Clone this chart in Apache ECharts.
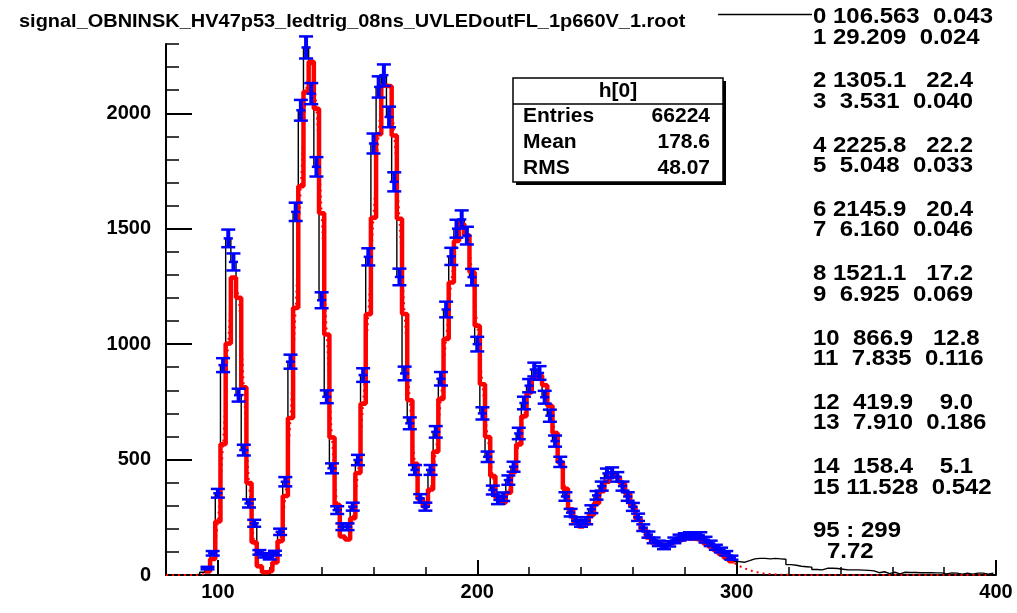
<!DOCTYPE html>
<html>
<head>
<meta charset="utf-8">
<title>h[0] fit</title>
<script src="https://cdn.jsdelivr.net/npm/echarts@6/dist/echarts.min.js"></script>
<style>
  html, body { margin: 0; padding: 0; background: #ffffff; }
  #chart { width: 1017px; height: 613px; }
</style>
</head>
<body>
<div id="chart"></div>
<script>
// ---- histogram data (2-unit bins, first bin centred at 80) ----
const histTitle = 'signal_OBNINSK_HV47p53_ledtrig_08ns_UVLEDoutFL_1p660V_1.root';
const firstBinCenter = 80;
const binWidth = 2;

// bin contents, centres 80, 82, ... 398
const counts = [
  0, 0, 0, 0, 0, 0, 3, 12, 30, 94,
  354, 909, 1458, 1356, 779, 541, 310, 224, 98, 85,
  76, 95, 187, 404, 924, 1573, 2013, 2285, 2085, 1768,
  1190, 772, 462, 281, 209, 209, 296, 498, 866, 1378,
  1869, 2114, 2165, 1984, 1703, 1291, 873, 657, 455, 332,
  296, 455, 620, 850, 1150, 1380, 1500, 1540, 1470, 1290,
  1000, 700, 512, 368, 325, 339, 411, 469, 613, 745,
  820, 890, 875, 770, 690, 580, 490, 340, 270, 235,
  224, 235, 285, 345, 385, 440, 445, 425, 385, 340,
  295, 250, 205, 175, 150, 137, 123, 135, 150, 162,
  168, 172, 167, 172, 153, 137, 120, 108, 94, 75,
  58, 55, 62, 70, 72, 72, 70, 72, 70, 68,
  45, 42, 38, 36, 34, 24, 22, 29, 29, 28,
  25, 22, 22, 22, 21, 20, 18, 10, 14, 6,
  12, 5, 12, 11, 11, 10, 10, 10, 9, 9,
  5, 9, 8, 4, 8, 3, 8, 8, 3, 8
];

// multi-gaussian fit evaluated at the same bin centres
const fitValues = [
  0, 0, 0, 0, 0, 0, 0.3, 2.3, 14.9, 68.9,
  232.0, 566.3, 1002.8, 1288.6, 1201.4, 812.7, 398.8, 142.2, 37.7, 11.4,
  17.8, 53.9, 146.8, 341.9, 680.4, 1157.7, 1683.6, 2092.9, 2223.5, 2019.2,
  1567.4, 1041.9, 596.1, 304.4, 166.4, 153.4, 245.7, 441.3, 742.1, 1129.2,
  1547.6, 1908.8, 2118.9, 2116.7, 1904.2, 1543.1, 1130.2, 756.4, 481.6, 328.9,
  296.2, 370.3, 533.5, 762.3, 1022.2, 1267.2, 1446.9, 1520.5, 1471.9, 1311.9,
  1079.8, 826.1, 598.0, 428.8, 333.8, 313.2, 356.5, 447.6, 565.7, 687.8,
  790.6, 853.7, 864.4, 821.9, 732.9, 615.0, 488.6, 373.5, 284.4, 229.1,
  210.0, 223.1, 260.3, 311.0, 362.8, 403.9, 425.4, 422.0, 395.9, 351.6,
  297.8, 243.6, 196.9, 162.0, 140.4, 131.1, 131.0, 136.7, 144.8, 152.4,
  157.6, 158.9, 155.6, 148.3, 137.2, 123.1, 107.2, 90.6, 74.3, 59.1,
  45.7, 34.2, 24.9, 17.5, 12.0, 8.0, 5.1, 3.2, 2.0, 1.2,
  0.7, 0.4, 0, 0, 0, 0, 0, 0, 0, 0,
  0, 0, 0, 0, 0, 0, 0, 0, 0, 0,
  0, 0, 0, 0, 0, 0, 0, 0, 0, 0,
  0, 0, 0, 0, 0, 0, 0, 0, 0, 0
];

const fitRange = [95, 299];
const xRange = [80, 400];
const yRange = [0, 2300];
const xTickValues = [100, 200, 300, 400];
const yTickValues = [0, 500, 1000, 1500, 2000];

// statistics box
const statsName = 'h[0]';
const statsLabels = ['Entries', 'Mean', 'RMS'];
const statsValues = ['66224', '178.6', '48.07'];

// fit parameter listing: index, value, error
const paramLines = [
  '0 106.563  0.043', '1 29.209  0.024',
  '2 1305.1   22.4', '3  3.531  0.040',
  '4 2225.8   22.2', '5  5.048  0.033',
  '6 2145.9   20.4', '7  6.160  0.046',
  '8 1521.1   17.2', '9  6.925  0.069',
  '10  866.9   12.8', '11  7.835  0.116',
  '12  419.9    9.0', '13  7.910  0.186',
  '14  158.4    5.1', '15 11.528  0.542'
];
const fitRangeText = '95 : 299';
const chi2Text = '7.72';

// ---- derived series ----
const FONT = '"Liberation Sans", Arial, Helvetica, sans-serif';
const centers = counts.map((_, i) => firstBinCenter + i * binWidth);
const inFit = centers.map(c => c >= fitRange[0] && c <= fitRange[1]);

// histogram outline: one point per lower bin edge, stepped at the end
const histPoints = counts.map((c, i) => [centers[i] - binWidth / 2, c]);
histPoints.push([centers[centers.length - 1] + binWidth / 2, counts[counts.length - 1]]);

// fit sampled per bin inside the fit range
const fitStep = [];
let lastFitBin = -1;
centers.forEach((c, i) => {
  if (inFit[i]) { fitStep.push([c - binWidth / 2, fitValues[i]]); lastFitBin = i; }
});
fitStep.push([centers[lastFitBin] + binWidth / 2, fitValues[lastFitBin]]);

const fitCurve = centers.map((c, i) => [c, fitValues[i]]);

// poisson error bars inside the fit range
const errPoints = [];
centers.forEach((c, i) => {
  if (inFit[i]) errPoints.push([c, counts[i], Math.sqrt(counts[i])]);
});

function renderErrorBar(params, api) {
  const x = api.value(0), y = api.value(1), e = api.value(2);
  const top = api.coord([x, y + e]);
  const bot = api.coord([x, y - e]);
  const left = api.coord([x - binWidth / 2, y]);
  const right = api.coord([x + binWidth / 2, y]);
  const cap = 7;
  const thin = { stroke: '#0000ff', lineWidth: 2.5 };
  return {
    type: 'group',
    children: [
      { type: 'line', shape: { x1: top[0], y1: top[1], x2: bot[0], y2: bot[1] },
        style: { stroke: '#0000ff', lineWidth: 4 } },
      { type: 'line', shape: { x1: top[0] - cap, y1: top[1], x2: top[0] + cap, y2: top[1] }, style: thin },
      { type: 'line', shape: { x1: bot[0] - cap, y1: bot[1], x2: bot[0] + cap, y2: bot[1] }, style: thin },
      { type: 'line', shape: { x1: left[0] - 2, y1: left[1], x2: right[0] + 2, y2: right[1] }, style: thin }
    ]
  };
}

// ---- overlay text ----
const graphics = [];
graphics.push({
  type: 'text', x: 19, y: 22, scaleX: 1.05, z: 50,
  style: { text: histTitle, font: 'bold 19px ' + FONT, fill: '#000', verticalAlign: 'middle', align: 'left' }
});
graphics.push({
  type: 'line', z: 50,
  shape: { x1: 718, y1: 14.5, x2: 812, y2: 14.5 },
  style: { stroke: '#000', lineWidth: 1.3 }
});
paramLines.forEach((line, i) => {
  const pair = Math.floor(i / 2);
  const y = 17 + pair * 64.3 + (i % 2) * 20.5;
  graphics.push({
    type: 'text', x: 813, y: y, scaleX: 1.09, z: 50,
    style: { text: line, font: 'bold 22px ' + FONT, fill: '#000', verticalAlign: 'middle', align: 'left' }
  });
});
graphics.push({
  type: 'text', x: 813, y: 531, scaleX: 1.09, z: 50,
  style: { text: fitRangeText, font: 'bold 22px ' + FONT, fill: '#000', verticalAlign: 'middle', align: 'left' }
});
graphics.push({
  type: 'text', x: 827, y: 552, scaleX: 1.09, z: 50,
  style: { text: chi2Text, font: 'bold 22px ' + FONT, fill: '#000', verticalAlign: 'middle', align: 'left' }
});

// statistics box with drop shadow
const box = { x: 513, y: 78, w: 210, h: 104 };
graphics.push({
  type: 'rect', z: 60,
  shape: { x: box.x + 3, y: box.y + 3, width: box.w, height: box.h },
  style: { fill: '#000' }
});
graphics.push({
  type: 'rect', z: 61,
  shape: { x: box.x, y: box.y, width: box.w, height: box.h },
  style: { fill: '#fff', stroke: '#000', lineWidth: 1.5 }
});
graphics.push({
  type: 'line', z: 62,
  shape: { x1: box.x, y1: box.y + 26, x2: box.x + box.w, y2: box.y + 26 },
  style: { stroke: '#000', lineWidth: 1.5 }
});
graphics.push({
  type: 'text', x: box.x + box.w / 2, y: box.y + 13, z: 62,
  style: { text: statsName, font: 'bold 21px ' + FONT, fill: '#000', align: 'center', verticalAlign: 'middle' }
});
statsLabels.forEach((lab, i) => {
  const y = box.y + 38.5 + i * 26;
  graphics.push({
    type: 'text', x: box.x + 10, y: y, z: 62,
    style: { text: lab, font: 'bold 21px ' + FONT, fill: '#000', align: 'left', verticalAlign: 'middle' }
  });
  graphics.push({
    type: 'text', x: box.x + box.w - 13, y: y, z: 62,
    style: { text: statsValues[i], font: 'bold 21px ' + FONT, fill: '#000', align: 'right', verticalAlign: 'middle' }
  });
});

const axisLabelStyle = {
  color: '#000', fontFamily: FONT, fontWeight: 'bold', fontSize: 20,
  formatter: v => String(v)
};

const option = {
  animation: false,
  backgroundColor: '#ffffff',
  grid: { left: 166, right: 21, top: 44, bottom: 38, containLabel: false },
  xAxis: [
    {
      type: 'value', min: xRange[0], max: xRange[1], position: 'bottom',
      axisLine: { show: true, onZero: false, lineStyle: { color: '#000', width: 2 } },
      axisTick: { show: true, inside: true, length: 15, customValues: xTickValues, lineStyle: { color: '#000', width: 2 } },
      axisLabel: Object.assign({ customValues: xTickValues, margin: 7 }, axisLabelStyle),
      splitLine: { show: false }
    },
    {
      type: 'value', min: xRange[0], max: xRange[1], interval: 20, position: 'bottom',
      axisLine: { show: false },
      axisTick: { show: true, inside: true, length: 8, lineStyle: { color: '#000', width: 1.5 } },
      axisLabel: { show: false },
      splitLine: { show: false }
    }
  ],
  yAxis: [
    {
      type: 'value', min: yRange[0], max: yRange[1], position: 'left',
      axisLine: { show: true, onZero: false, lineStyle: { color: '#000', width: 2 } },
      axisTick: { show: true, inside: true, length: 26, customValues: yTickValues, lineStyle: { color: '#000', width: 2 } },
      axisLabel: Object.assign({ customValues: yTickValues, margin: 15 }, axisLabelStyle),
      splitLine: { show: false }
    },
    {
      type: 'value', min: yRange[0], max: yRange[1], interval: 100, position: 'left',
      axisLine: { show: false },
      axisTick: { show: true, inside: true, length: 13, lineStyle: { color: '#000', width: 1.5 } },
      axisLabel: { show: false },
      splitLine: { show: false }
    }
  ],
  series: [
    {
      name: 'data', type: 'line', xAxisIndex: 0, yAxisIndex: 0,
      data: histPoints, step: 'end', symbol: 'none', z: 2,
      lineStyle: { color: '#000', width: 1.4 }
    },
    {
      name: 'fit per bin', type: 'line', xAxisIndex: 0, yAxisIndex: 0,
      data: fitStep, step: 'end', symbol: 'none', z: 3,
      lineStyle: { color: '#ff0000', width: 4.5 }
    },
    {
      name: 'fit', type: 'line', xAxisIndex: 0, yAxisIndex: 0,
      data: fitCurve, smooth: 0.3, symbol: 'none', z: 4,
      lineStyle: { color: '#ff0000', width: 2, type: [2, 4] }
    },
    {
      name: 'errors', type: 'custom', xAxisIndex: 0, yAxisIndex: 0,
      data: errPoints, renderItem: renderErrorBar, z: 5, clip: false
    }
  ],
  graphic: graphics
};

const chart = echarts.init(document.getElementById('chart'), null, { renderer: 'canvas' });
chart.setOption(option);
</script>
</body>
</html>
